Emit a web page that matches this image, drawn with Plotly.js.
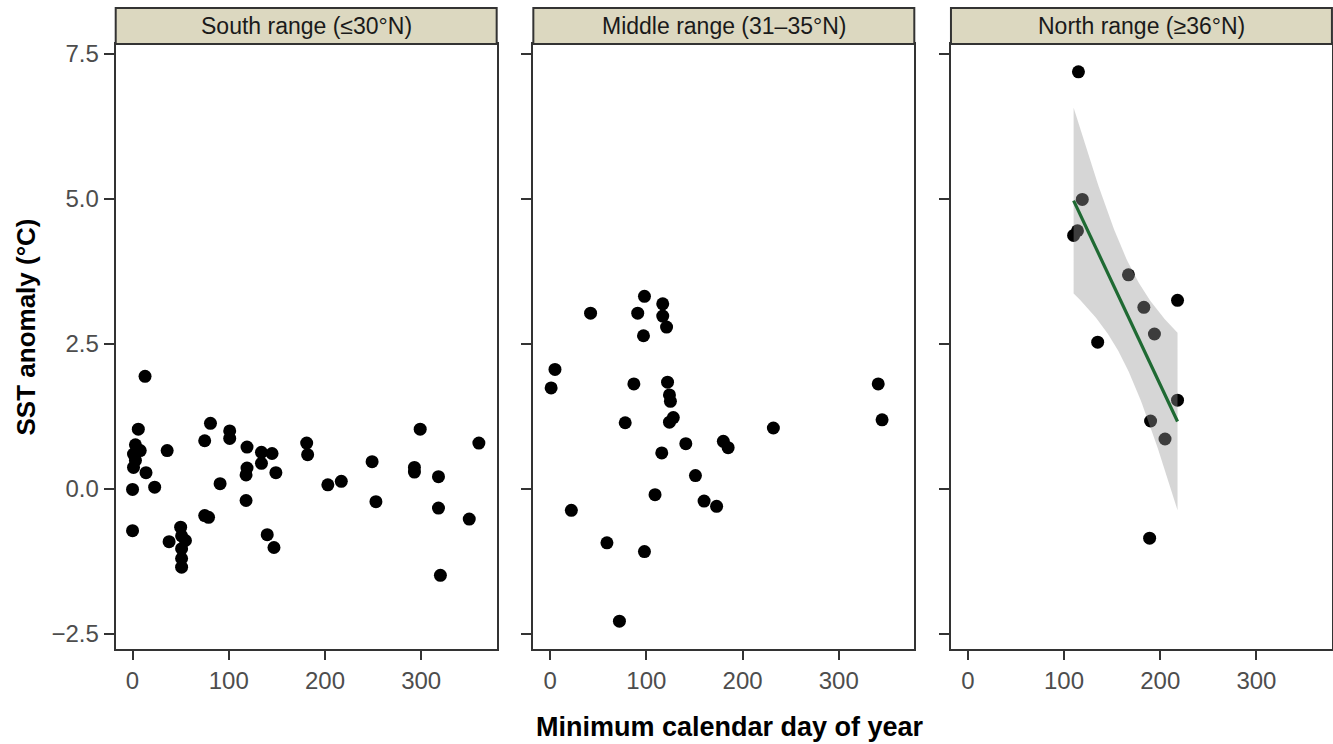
<!DOCTYPE html>
<html>
<head>
<meta charset="utf-8">
<script src="https://cdn.plot.ly/plotly-3.0.1.min.js"></script>
<style>html,body{margin:0;padding:0;background:#fff;}#chart{width:1333px;height:744px;}</style>
</head>
<body>
<div id="chart"></div>
<script>
// ---------- data ----------
const panelTitles = ["South range (≤30°N)", "Middle range (31–35°N)", "North range (≥36°N)"];
const xTicks = [0, 100, 200, 300];
const yTicks = [-2.5, 0, 2.5, 5, 7.5];

const southX = [13, 6, 3, 8, 1, 3, 1, 14, 0, 23, 36, 81, 75, 101, 101, 91, 119, 134, 145, 134, 119, 118, 149, 118, 181, 182, 203, 217, 249, 253, 299, 293, 293, 318, 360, 318, 350, 0, 75, 79, 38, 50, 51, 55, 51, 51, 51, 140, 147, 320];
const southY = [1.94, 1.03, 0.76, 0.66, 0.60, 0.49, 0.37, 0.28, -0.01, 0.03, 0.66, 1.13, 0.83, 1.00, 0.87, 0.09, 0.72, 0.63, 0.61, 0.44, 0.36, 0.24, 0.28, -0.20, 0.79, 0.59, 0.07, 0.13, 0.47, -0.22, 1.03, 0.37, 0.29, 0.21, 0.79, -0.33, -0.52, -0.72, -0.46, -0.49, -0.91, -0.66, -0.81, -0.89, -1.03, -1.20, -1.35, -0.79, -1.01, -1.49];

const middleX = [98, 42, 91, 117, 117, 121, 97, 5, 1, 87, 122, 124, 125, 128, 124, 78, 341, 345, 232, 141, 180, 185, 116, 151, 109, 160, 173, 22, 59, 98, 72];
const middleY = [3.32, 3.03, 3.03, 3.19, 2.98, 2.79, 2.64, 2.06, 1.74, 1.81, 1.84, 1.62, 1.51, 1.23, 1.15, 1.14, 1.81, 1.19, 1.05, 0.78, 0.82, 0.71, 0.62, 0.23, -0.10, -0.21, -0.30, -0.37, -0.93, -1.08, -2.28];

const northX = [115, 119, 114, 110, 167, 218, 183, 194, 135, 218, 190, 205, 189];
const northY = [7.19, 4.99, 4.45, 4.37, 3.69, 3.25, 3.13, 2.67, 2.53, 1.53, 1.17, 0.86, -0.85];

// ---------- linear fit with 95% CI (like geom_smooth(method = "lm")) ----------
function lmFit(xs, ys, tq, nOut) {
  const n = xs.length;
  const mx = xs.reduce((a, b) => a + b, 0) / n;
  const my = ys.reduce((a, b) => a + b, 0) / n;
  let sxx = 0, sxy = 0;
  for (let i = 0; i < n; i++) { sxx += (xs[i] - mx) ** 2; sxy += (xs[i] - mx) * (ys[i] - my); }
  const b = sxy / sxx, a = my - b * mx;
  let ssr = 0;
  for (let i = 0; i < n; i++) ssr += (ys[i] - (a + b * xs[i])) ** 2;
  const s = Math.sqrt(ssr / (n - 2));
  const lo = Math.min(...xs), hi = Math.max(...xs);
  const gx = [], gy = [], up = [], dn = [];
  for (let k = 0; k < nOut; k++) {
    const x = lo + (hi - lo) * k / (nOut - 1);
    const y = a + b * x;
    const se = s * Math.sqrt(1 / n + (x - mx) ** 2 / sxx);
    gx.push(x); gy.push(y); up.push(y + tq * se); dn.push(y - tq * se);
  }
  return { gx, gy, up, dn };
}
const T975_DF11 = 2.200985; // t quantile, df = n - 2 = 11
const fit = lmFit(northX, northY, T975_DF11, 80);

// ---------- layout geometry ----------
const FONT = "Liberation Sans, Arial, Helvetica, sans-serif";
const xDomains = [[0.0868, 0.3726], [0.4001, 0.6859], [0.7134, 0.9992]];
const yDomain = [0.1277, 0.9409];
const stripTop = 0.9892;

const pt = (x, y, ax) => ({
  type: "scatter", mode: "markers", x: x, y: y,
  xaxis: ax[0], yaxis: ax[1],
  marker: { color: "#000000", size: 13, line: { width: 0 } },
  hoverinfo: "skip"
});

const traces = [
  pt(southX, southY, ["x", "y"]),
  pt(middleX, middleY, ["x2", "y2"]),
  pt(northX, northY, ["x3", "y3"]),
  {
    type: "scatter", mode: "lines",
    x: fit.gx.concat(fit.gx.slice().reverse()),
    y: fit.up.concat(fit.dn.slice().reverse()),
    xaxis: "x3", yaxis: "y3",
    fill: "toself", fillcolor: "rgba(153,153,153,0.4)",
    line: { width: 0, color: "rgba(0,0,0,0)" }, hoverinfo: "skip"
  },
  {
    type: "scatter", mode: "lines", x: fit.gx, y: fit.gy,
    xaxis: "x3", yaxis: "y3",
    line: { color: "#1f6a33", width: 3.2 }, hoverinfo: "skip"
  }
];

function xAxis(i) {
  return {
    domain: xDomains[i], range: [-17.5, 378.5], anchor: i === 0 ? "y" : "y" + (i + 1),
    tickvals: xTicks, ticktext: xTicks.map(String),
    showgrid: false, zeroline: false,
    showline: true, mirror: true, linecolor: "#333333", linewidth: 2,
    ticks: "outside", ticklen: 9, tickwidth: 2, tickcolor: "#333333",
    tickfont: { family: FONT, size: 24, color: "#4d4d4d" }, fixedrange: true
  };
}
function yAxis(i) {
  return {
    domain: yDomain, range: [-2.76, 7.67], anchor: i === 0 ? "x" : "x" + (i + 1),
    tickvals: yTicks, tickformat: ".1f",
    showticklabels: i === 0,
    showgrid: false, zeroline: false,
    showline: true, mirror: true, linecolor: "#333333", linewidth: 2,
    ticks: "outside", ticklen: 10, tickwidth: 2, tickcolor: "#333333",
    tickfont: { family: FONT, size: 24, color: "#4d4d4d" }, fixedrange: true
  };
}

const shapes = [], annotations = [];
panelTitles.forEach((t, i) => {
  const xr = (i === 0 ? "x" : "x" + (i + 1)) + " domain";
  shapes.push({
    type: "rect", xref: xr, yref: "paper", x0: 0, x1: 1, y0: yDomain[1], y1: stripTop,
    fillcolor: "#dcd8c0", line: { color: "#333333", width: 2 }, layer: "above"
  });
  annotations.push({
    xref: xr, yref: "paper", x: 0.5, y: (yDomain[1] + stripTop) / 2,
    xanchor: "center", yanchor: "middle", showarrow: false, text: t,
    font: { family: FONT, size: 23, color: "#1a1a1a" }
  });
});
annotations.push({
  xref: "paper", yref: "paper", x: 730 / 1333, y: 1 - 727 / 744,
  xanchor: "center", yanchor: "middle", showarrow: false,
  text: "<b>Minimum calendar day of year</b>",
  font: { family: FONT, size: 27, color: "#000000" }
});
annotations.push({
  xref: "paper", yref: "paper", x: 25 / 1333, y: 1 - 327.5 / 744,
  xanchor: "center", yanchor: "middle", showarrow: false, textangle: -90,
  text: "<b>SST anomaly (°C)</b>",
  font: { family: FONT, size: 26, color: "#000000" }
});

const layout = {
  width: 1333, height: 744,
  margin: { l: 0, r: 0, t: 0, b: 0, pad: 0 },
  paper_bgcolor: "#ffffff", plot_bgcolor: "#ffffff",
  showlegend: false,
  font: { family: FONT },
  xaxis: xAxis(0), xaxis2: xAxis(1), xaxis3: xAxis(2),
  yaxis: yAxis(0), yaxis2: yAxis(1), yaxis3: yAxis(2),
  shapes: shapes, annotations: annotations
};

Plotly.newPlot("chart", traces, layout, { displayModeBar: false, staticPlot: true });
</script>
</body>
</html>
